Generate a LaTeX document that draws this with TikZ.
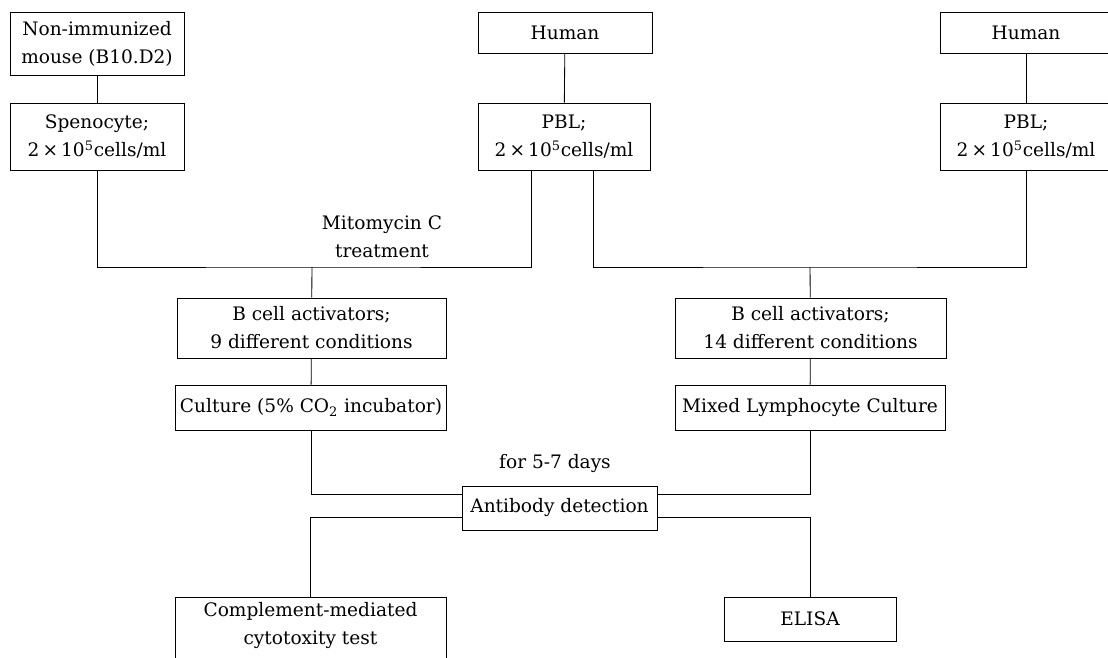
\documentclass[tikz,border=0pt]{standalone}
\usepackage{fontspec}
\setmainfont{DejaVu Serif}
\usepackage{tikz}
\usetikzlibrary{positioning}

\begin{document}
\begin{tikzpicture}[x=0.025cm, y=-0.025cm, line width = 0.6 pt,
box/.style={draw, align=center, inner sep=1pt, font=\fontsize{13.2}{20}\selectfont},
txt/.style={align=center, font=\fontsize{13.2}{20}\selectfont}]

\useasboundingbox (0,0) rectangle (1108,657);
\clip (0,0) rectangle (1108,657);

\node [box, minimum width=4.35cm, minimum height=1.575cm] (mouse) at (97,43.5) {Non-immunized\\mouse (B10.D2)};
\node [box, minimum width=4.35cm, minimum height=1.675cm] (spleen) at (97,136.5) {Spenocyte;\\2\,×\,10\textsuperscript{5}cells/ml};
\path (mouse) edge (spleen);

\node [box, minimum width=4.35cm, minimum height=1.025cm] (human) at (565,32.5) {Human};
\node [box, minimum width=4.3cm, minimum height=1.675cm] (pbl) at (564,136.5) {PBL;\\2\,×\,10\textsuperscript{5}cells/ml};
\path (human) edge (pbl);

\node [box, minimum width=4.3cm, minimum height=1.025cm] (humantwo) at (1026,32.5) {Human};
\node [box, minimum width=4.3cm, minimum height=1.675cm] (pbltwo) at (1026,136.5) {PBL;\\2\,×\,10\textsuperscript{5}cells/ml};
\path (humantwo) edge (pbltwo);

\node [txt] (mito) at (382,237) {Mitomycin C\\treatment};

\coordinate (joinone) at (312,267);
\coordinate (jointwo) at (810,267);
\draw (spleen.south) |- (joinone) -| ([xshift=-0.825cm]pbl.south);
\draw ([xshift=0.725cm]pbl.south) |- (jointwo) -| (pbltwo.south);

\node [box, minimum width=6.725cm, minimum height=1.5cm] (bactone) at (311.5,328) {B cell activators;\\9 different conditions};
\path (joinone) edge (bactone);
\node [box, minimum width=6.775cm, minimum height=1.5cm] (bacttwo) at (810.5,328) {B cell activators;\\14 different conditions};
\path (jointwo) edge (bacttwo);

\node [box, minimum width=6.775cm, minimum height=1.125cm] (culture) at (311,407.5) {Culture (5\% CO\textsubscript{2} incubator)};
\path (bactone) edge (culture);
\node [box, minimum width=6.75cm, minimum height=1.125cm] (mlc) at (810,407.5) {Mixed Lymphocyte Culture};
\path (bacttwo) edge (mlc);

\node [txt] (days) at (555,464) {for 5-7 days};

\node [box, minimum width=4.875cm, minimum height=1.1cm] (antibody) at (559.5,508) {Antibody detection};
\draw (culture.south) |- ([yshift=0.35cm]antibody.west);
\draw (mlc.south) |- ([yshift=0.35cm]antibody.east);

\node [box, minimum width=6.775cm, minimum height=2cm, anchor=north] (cmt) at (310.5,597) {Complement-mediated\\cytotoxity test\\~};
\node [box, minimum width=4.3cm, minimum height=1.1cm] (elisa) at (810,619) {ELISA};
\draw ([yshift=-0.225cm]antibody.west) -| (cmt.north);
\draw ([yshift=-0.225cm]antibody.east) -| (elisa.north);

\end{tikzpicture}
\end{document}
